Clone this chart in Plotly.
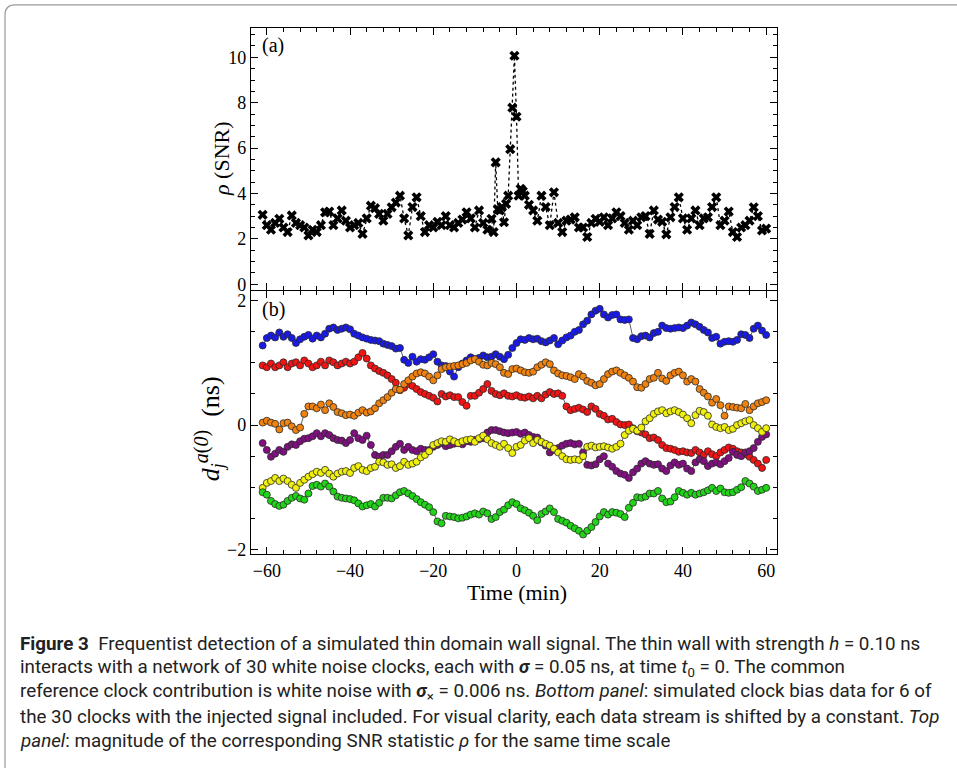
import plotly.graph_objects as go

W, H = 957, 773

# ---------------- data ----------------
time_min = list(range(-61, 61))  # clock data, 1-min sampling

blue = [1.28, 1.40, 1.44, 1.41, 1.49, 1.42, 1.46, 1.40, 1.32, 1.38,
        1.42, 1.45, 1.39, 1.44, 1.41, 1.47, 1.55, 1.57, 1.53, 1.55,
        1.57, 1.54, 1.47, 1.44, 1.41, 1.39, 1.37, 1.36, 1.35, 1.31,
        1.29, 1.27, 1.23, 1.24, 1.05, 1.00, 1.10, 1.02, 1.06, 1.05,
        1.09, 1.14, 1.02, 0.96, 0.95, 0.86, 0.78, 0.93, 0.99, 1.04,
        1.09, 1.06, 1.08, 1.12, 1.09, 1.10, 1.14, 1.10, 1.06, 1.13,
        1.24, 1.32, 1.38, 1.37, 1.40, 1.38, 1.39, 1.35, 1.33, 1.36,
        1.40, 1.30, 1.36, 1.41, 1.44, 1.50, 1.53, 1.62, 1.68, 1.78,
        1.84, 1.87, 1.78, 1.73, 1.77, 1.78, 1.70, 1.69, 1.70, 1.40,
        1.38, 1.43, 1.44, 1.41, 1.48, 1.50, 1.60, 1.56, 1.55, 1.56,
        1.57, 1.56, 1.60, 1.65, 1.62, 1.58, 1.53, 1.49, 1.40, 1.42,
        1.31, 1.34, 1.35, 1.34, 1.37, 1.46, 1.45, 1.40, 1.55, 1.60,
        1.52, 1.45]

red = [0.96, 0.93, 0.99, 0.93, 0.96, 1.01, 0.93, 0.99, 1.01, 0.96,
       1.04, 0.99, 0.93, 0.96, 1.02, 0.96, 1.04, 1.01, 0.96, 0.99,
       1.02, 0.99, 1.02, 1.09, 1.16, 1.07, 0.96, 0.91, 0.87, 0.84,
       0.80, 0.74, 0.68, 0.56, 0.60, 0.66, 0.63, 0.58, 0.53, 0.50,
       0.47, 0.44, 0.38, 0.50, 0.46, 0.48, 0.45, 0.45, 0.37, 0.31,
       0.47, 0.47, 0.52, 0.58, 0.66, 0.55, 0.50, 0.48, 0.51, 0.47,
       0.46, 0.48, 0.45, 0.44, 0.46, 0.43, 0.47, 0.43, 0.49, 0.53,
       0.50, 0.51, 0.47, 0.30, 0.24, 0.26, 0.28, 0.25, 0.21, 0.30,
       0.26, 0.18, 0.15, 0.09, 0.10, 0.05, 0.01, 0.00, 0.01, -0.05,
       -0.10, -0.12, -0.15, -0.21, -0.20, -0.24, -0.32, -0.37, -0.38, -0.40,
       -0.43, -0.42, -0.44, -0.45, -0.40, -0.44, -0.48, -0.42, -0.47, -0.50,
       -0.44, -0.40, -0.36, -0.38, -0.42, -0.44, -0.47, -0.51, -0.56, -0.62,
       -0.69, -0.56]

orange = [0.04, 0.07, 0.04, 0.02, -0.07, 0.03, 0.04, -0.02, -0.08, -0.04,
          0.18, 0.30, 0.30, 0.27, 0.33, 0.24, 0.35, 0.29, 0.21, 0.19,
          0.16, 0.17, 0.15, 0.20, 0.24, 0.20, 0.22, 0.27, 0.35, 0.40,
          0.45, 0.52, 0.58, 0.57, 0.66, 0.72, 0.78, 0.83, 0.85, 0.83,
          0.78, 0.72, 0.80, 0.90, 0.93, 0.94, 0.95, 0.96, 0.98, 1.00,
          1.04, 1.06, 1.02, 0.97, 0.96, 1.00, 0.98, 0.93, 0.84, 0.82,
          0.90, 0.91, 0.88, 0.85, 0.84, 0.86, 0.93, 0.97, 1.01, 0.98,
          0.88, 0.83, 0.80, 0.79, 0.77, 0.74, 0.82, 0.78, 0.71, 0.68,
          0.64, 0.66, 0.74, 0.82, 0.86, 0.88, 0.84, 0.80, 0.76, 0.70,
          0.61, 0.60, 0.66, 0.74, 0.76, 0.84, 0.75, 0.71, 0.80, 0.84,
          0.86, 0.80, 0.70, 0.74, 0.70, 0.58, 0.52, 0.46, 0.36, 0.42,
          0.32, 0.15, 0.30, 0.29, 0.28, 0.27, 0.34, 0.24, 0.30, 0.35,
          0.37, 0.40]

purple = [-0.29, -0.40, -0.51, -0.46, -0.40, -0.43, -0.35, -0.31, -0.32, -0.26,
          -0.22, -0.21, -0.18, -0.13, -0.18, -0.13, -0.16, -0.21, -0.24, -0.25,
          -0.29, -0.24, -0.13, -0.21, -0.24, -0.17, -0.32, -0.48, -0.51, -0.48,
          -0.48, -0.42, -0.35, -0.30, -0.40, -0.35, -0.40, -0.42, -0.38, -0.40,
          -0.40, -0.35, -0.32, -0.29, -0.34, -0.32, -0.30, -0.29, -0.31, -0.26,
          -0.27, -0.24, -0.23, -0.21, -0.12, -0.08, -0.08, -0.10, -0.12, -0.13,
          -0.12, -0.11, -0.14, -0.12, -0.16, -0.19, -0.20, -0.28, -0.33, -0.44,
          -0.40, -0.37, -0.33, -0.30, -0.29, -0.31, -0.30, -0.44, -0.64, -0.65,
          -0.63, -0.55, -0.50, -0.62, -0.67, -0.74, -0.78, -0.80, -0.85, -0.76,
          -0.70, -0.62, -0.58, -0.62, -0.64, -0.63, -0.70, -0.74, -0.65, -0.60,
          -0.64, -0.62, -0.70, -0.74, -0.60, -0.55, -0.58, -0.66, -0.62, -0.60,
          -0.63, -0.58, -0.53, -0.43, -0.48, -0.50, -0.44, -0.42, -0.37, -0.27,
          -0.19, -0.15]

yellow = [-1.01, -0.93, -0.90, -0.85, -0.90, -0.86, -0.90, -0.96, -1.01, -0.93,
          -0.88, -0.83, -0.79, -0.75, -0.77, -0.72, -0.78, -0.83, -0.78, -0.75,
          -0.74, -0.77, -0.69, -0.66, -0.72, -0.74, -0.69, -0.67, -0.59, -0.60,
          -0.64, -0.63, -0.69, -0.66, -0.59, -0.64, -0.62, -0.59, -0.52, -0.48,
          -0.42, -0.32, -0.29, -0.26, -0.27, -0.23, -0.26, -0.29, -0.26, -0.24,
          -0.23, -0.27, -0.21, -0.17, -0.23, -0.29, -0.32, -0.35, -0.30, -0.37,
          -0.45, -0.35, -0.32, -0.25, -0.21, -0.29, -0.24, -0.27, -0.30, -0.33,
          -0.38, -0.44, -0.50, -0.55, -0.56, -0.55, -0.56, -0.50, -0.35, -0.33,
          -0.36, -0.35, -0.34, -0.36, -0.38, -0.35, -0.30, -0.16, -0.09, -0.06,
          -0.09, -0.04, 0.06, 0.11, 0.18, 0.22, 0.24, 0.19, 0.22, 0.24,
          0.21, 0.17, 0.11, 0.03, 0.16, 0.23, 0.21, 0.15, 0.01, -0.03,
          -0.05, -0.03, -0.08, -0.06, 0.00, 0.03, 0.06, 0.08, 0.00, -0.05,
          -0.11, -0.05]

green = [-1.08, -1.12, -1.22, -1.27, -1.30, -1.28, -1.22, -1.17, -1.14, -1.18,
         -1.20, -1.10, -0.98, -0.96, -0.99, -0.94, -0.99, -1.07, -1.15, -1.17,
         -1.18, -1.19, -1.21, -1.26, -1.31, -1.29, -1.27, -1.31, -1.25, -1.17,
         -1.17, -1.18, -1.13, -1.08, -1.06, -1.10, -1.14, -1.19, -1.24, -1.28,
         -1.32, -1.40, -1.55, -1.58, -1.46, -1.47, -1.48, -1.50, -1.49, -1.47,
         -1.44, -1.42, -1.44, -1.39, -1.42, -1.51, -1.48, -1.40, -1.36, -1.29,
         -1.24, -1.27, -1.34, -1.37, -1.41, -1.46, -1.53, -1.43, -1.39, -1.34,
         -1.40, -1.51, -1.54, -1.57, -1.62, -1.66, -1.70, -1.76, -1.70, -1.64,
         -1.56, -1.47, -1.40, -1.44, -1.40, -1.41, -1.43, -1.48, -1.33, -1.25,
         -1.16, -1.17, -1.15, -1.10, -1.10, -1.06, -1.18, -1.24, -1.23, -1.16,
         -1.06, -1.09, -1.12, -1.09, -1.12, -1.10, -1.08, -1.05, -1.01, -1.06,
         -1.02, -1.08, -1.09, -1.08, -1.04, -1.00, -0.90, -0.94, -0.99, -1.06,
         -1.04, -1.01]

# SNR statistic (finer sampling around the detection peak)
time_snr = (list(range(-61, -5))
            + [-5.5, -5.0, -4.5, -4.0, -3.5, -3.0, -2.5, -2.0,
               -1.5, -1.0, -0.5, 0.0, 0.5, 1.0, 1.5, 2.0]
            + list(range(3, 61)))
snr = [3.06, 2.60, 2.40, 2.70, 2.88, 2.50, 2.30, 3.03, 2.70, 2.60,
       2.50, 2.15, 2.40, 2.30, 2.60, 3.17, 3.20, 2.60, 2.90, 3.25,
       2.80, 2.50, 2.60, 2.70, 2.22, 2.90, 3.46, 3.35, 3.10, 2.80,
       3.10, 3.39, 3.60, 3.90, 2.90, 2.15, 3.40, 3.83, 3.00, 2.30,
       2.60, 2.50, 2.75, 2.60, 3.00, 2.60, 2.50, 2.70, 2.85, 3.17,
       2.90, 2.50, 3.25, 2.70, 2.40, 2.88,
       2.30, 5.37, 3.30, 3.25, 3.40, 2.73, 3.54, 3.90,
       5.95, 7.78, 10.07, 7.38, 3.90, 4.20, 4.10, 3.90,
       3.50, 3.25, 2.80, 3.90, 3.40, 2.60, 4.05, 2.70, 2.30, 2.80,
       2.85, 2.95, 2.50, 2.50, 2.08, 2.70, 2.88, 2.75, 2.95, 2.60,
       2.90, 3.17, 3.00, 2.70, 2.40, 2.80, 2.60, 2.95, 3.00, 2.22,
       3.25, 2.85, 2.75, 2.20, 2.95, 3.40, 3.83, 2.90, 2.40, 2.90,
       3.25, 2.60, 2.90, 2.95, 3.40, 3.83, 2.60, 2.80, 3.20, 2.30,
       2.08, 2.50, 2.60, 2.80, 3.39, 3.00, 2.37, 2.45]

series_names = ["blue", "red", "orange", "purple", "yellow", "green"]
series_values = [blue, red, orange, purple, yellow, green]
series_colors = ["#1a1ae8", "#f01414", "#f0820f", "#800f80", "#f0f00f", "#22d418"]

x_ticks = [-60, -40, -20, 0, 20, 40, 60]
snr_ticks = [0, 2, 4, 6, 8, 10]
d_ticks = [-2, 0, 2]

# ---------------- figure ----------------
def px_x(p):
    return p / W

def px_y(p):
    return 1 - p / H

SERIF = "Liberation Serif, Times New Roman, serif"
SANS = "Roboto, Noto Sans, sans-serif"

fig = go.Figure()

fig.add_trace(go.Scatter(
    x=time_snr, y=snr, mode="lines+markers", xaxis="x", yaxis="y",
    line=dict(color="black", width=1.3, dash="dot"),
    marker=dict(symbol="x", size=9, color="black"),
    showlegend=False, hoverinfo="skip"))

for name, vals, col in zip(series_names, series_values, series_colors):
    fig.add_trace(go.Scatter(
        x=time_min, y=vals, mode="lines+markers", name=name,
        xaxis="x2", yaxis="y2",
        line=dict(color="#333333", width=0.8),
        marker=dict(symbol="circle", size=7, color=col,
                    line=dict(color="#2a2a2a", width=0.8)),
        showlegend=False, hoverinfo="skip"))

xdom = [px_x(251), px_x(777)]
axis_common = dict(showline=True, linecolor="black", linewidth=1.4, mirror="allticks",
                   ticks="inside", ticklen=7, tickwidth=1.2, tickcolor="black",
                   showgrid=False, zeroline=False,
                   tickfont=dict(family=SERIF, size=18, color="black"))

fig.update_layout(
    width=W, height=H,
    margin=dict(l=0, r=0, t=0, b=0),
    paper_bgcolor="white", plot_bgcolor="white",
    xaxis=dict(domain=xdom, anchor="y", range=[-63.8, 62.6],
               tickvals=x_ticks, showticklabels=False,
               minor=dict(dtick=4, tick0=-60, ticks="inside", ticklen=4,
                          tickcolor="black", tickwidth=1), **axis_common),
    yaxis=dict(domain=[px_y(292), px_y(28)], anchor="x", range=[-0.26, 11.3],
               tickvals=snr_ticks,
               minor=dict(dtick=0.5, tick0=0, ticks="inside", ticklen=4,
                          tickcolor="black", tickwidth=1), **axis_common),
    xaxis2=dict(domain=xdom, anchor="y2", range=[-63.8, 62.6], matches="x",
                tickvals=x_ticks,
                minor=dict(dtick=4, tick0=-60, ticks="inside", ticklen=4,
                           tickcolor="black", tickwidth=1), **axis_common),
    yaxis2=dict(domain=[px_y(558), px_y(293)], anchor="x2", range=[-2.08, 2.155],
                tickvals=d_ticks,
                minor=dict(dtick=0.5, tick0=0, ticks="inside", ticklen=4,
                           tickcolor="black", tickwidth=1), **axis_common),
)

ann = []
ann.append(dict(text="<i>ρ</i> (SNR)", x=px_x(222), y=px_y(160), textangle=-90,
                font=dict(family=SERIF, size=22, color="black")))
ann.append(dict(text="<i>d</i><sub><i>j</i></sub><sup><span style='font-size:20px'><i>a</i>(<i>0</i>)</span></sup>  (ns)",
                x=px_x(209), y=px_y(432), textangle=-90,
                font=dict(family=SERIF, size=26, color="black")))
ann.append(dict(text="Time (min)", x=px_x(517), y=px_y(596),
                font=dict(family=SERIF, size=22, color="black")))
ann.append(dict(text="(a)", x=px_x(260), y=px_y(46), xanchor="left",
                font=dict(family=SERIF, size=20, color="black")))
ann.append(dict(text="(b)", x=px_x(260), y=px_y(312), xanchor="left",
                font=dict(family=SERIF, size=20, color="black")))

caption_lines = [
    "<b>Figure 3</b>  Frequentist detection of a simulated thin domain wall signal. The thin wall with strength <i>h</i> = 0.10 ns",
    "interacts with a network of 30 white noise clocks, each with <b><i>σ</i></b> = 0.05 ns, at time <i>t</i><sub>0</sub> = 0. The common",
    "reference clock contribution is white noise with <b><i>σ</i></b><sub>×</sub> = 0.006 ns. <i>Bottom panel</i>: simulated clock bias data for 6 of",
    "the 30 clocks with the injected signal included. For visual clarity, each data stream is shifted by a constant. <i>Top</i>",
    "<i>panel</i>: magnitude of the corresponding SNR statistic <i>ρ</i> for the same time scale",
]
cap_y = [648, 672.5, 697, 721.5, 746]
for line, yy in zip(caption_lines, cap_y):
    ann.append(dict(text=line, x=px_x(18), y=px_y(yy), xanchor="left",
                    font=dict(family=SANS, size=18.8, color="#222222")))

for a in ann:
    a.setdefault("xanchor", "center")
    a.update(xref="paper", yref="paper", showarrow=False, yanchor="middle")
fig.update_layout(annotations=ann)

# rounded frame around the figure
path = (f"M {px_x(5)},{px_y(773)} L {px_x(5)},{px_y(15)} "
        f"Q {px_x(5)},{px_y(5)} {px_x(15)},{px_y(5)} L {px_x(957)},{px_y(5)}")
fig.add_shape(type="path", path=path, xref="paper", yref="paper",
              line=dict(color="#9a9a9a", width=1.2))

fig.write_html("out.html")
